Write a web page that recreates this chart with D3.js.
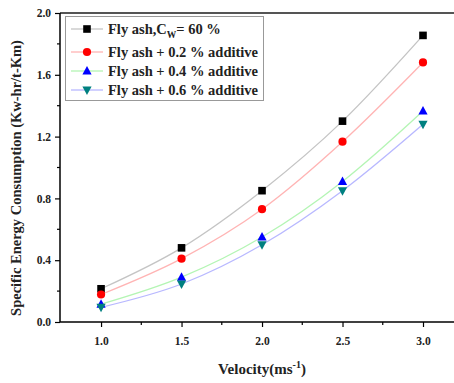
<!DOCTYPE html>
<html>
<head>
<meta charset="utf-8">
<script src="https://cdn.jsdelivr.net/npm/d3@7"></script>
<style>
  body { margin: 0; background: #fff; }
  svg text { font-family: "Liberation Serif", "Times New Roman", serif; font-weight: bold; }
</style>
</head>
<body>
<div id="chart"></div>
<script>
const velocity = [1.0, 1.5, 2.0, 2.5, 3.0];
const seriesNames = ["Fly ash,C_W= 60 %", "Fly ash + 0.2 % additive", "Fly ash + 0.4 % additive", "Fly ash + 0.6 % additive"];
const flyAsh60 = [0.215, 0.48, 0.85, 1.30, 1.855];
const additive02 = [0.178, 0.41, 0.73, 1.167, 1.68];
const additive04 = [0.115, 0.29, 0.55, 0.91, 1.366];
const additive06 = [0.095, 0.246, 0.50, 0.85, 1.28];
const xTicks = [1.0, 1.5, 2.0, 2.5, 3.0];
const yTicks = [0.0, 0.4, 0.8, 1.2, 1.6, 2.0];

const width = 454, height = 383;
const margin = {left: 60, top: 13, right: 0, bottom: 61};

const svg = d3.select("#chart").append("svg")
  .attr("width", width)
  .attr("height", height);

const x = d3.scaleLinear().domain([0.745, 3.0]).range([margin.left, 423]);
const y = d3.scaleLinear().domain([0, 2.0]).range([height - margin.bottom, margin.top]);

const series = [
  {name: seriesNames[0], values: flyAsh60, line: "#c4c4c4", fill: "#000000", symbol: "square"},
  {name: seriesNames[1], values: additive02, line: "#ffb4b4", fill: "#ff0000", symbol: "circle"},
  {name: seriesNames[2], values: additive04, line: "#b4f5b4", fill: "#0000ff", symbol: "up"},
  {name: seriesNames[3], values: additive06, line: "#b8b8ff", fill: "#008080", symbol: "down"}
];

// top frame line
svg.append("line")
  .attr("x1", margin.left).attr("x2", width)
  .attr("y1", margin.top).attr("y2", margin.top)
  .attr("stroke", "#555").attr("stroke-width", 2);

// x axis
const xAxis = svg.append("g")
  .attr("transform", `translate(0,${y(0)})`)
  .call(d3.axisBottom(x).tickValues(xTicks).tickFormat(d3.format(".1f")).tickSize(5).tickPadding(10));
xAxis.select(".domain").attr("d", `M${margin.left},0H${width}`).attr("stroke-width", 1.5);
xAxis.selectAll(".tick line").attr("stroke-width", 1.2);
xAxis.selectAll("text").attr("font-size", 11.5).attr("fill", "#222");
const xMinor = d3.range(1.25, 3.01, 0.5);
xAxis.selectAll(".minor").data(xMinor).enter().append("line")
  .attr("x1", d => x(d)).attr("x2", d => x(d))
  .attr("y1", 0).attr("y2", 3)
  .attr("stroke", "#000").attr("stroke-width", 1.2);

// y axis
const yAxis = svg.append("g")
  .attr("transform", `translate(${margin.left},0)`)
  .call(d3.axisLeft(y).tickValues(yTicks).tickFormat(d3.format(".1f")).tickSize(5).tickPadding(4));
yAxis.select(".domain").attr("d", `M0,${y(0)}V${margin.top}`).attr("stroke-width", 1.5);
yAxis.selectAll(".tick line").attr("stroke-width", 1.2);
yAxis.selectAll("text").attr("font-size", 11.5).attr("fill", "#222");
const yMinor = d3.range(0.2, 2.0, 0.4);
yAxis.selectAll(".minor").data(yMinor).enter().append("line")
  .attr("x1", 0).attr("x2", -3)
  .attr("y1", d => y(d)).attr("y2", d => y(d))
  .attr("stroke", "#000").attr("stroke-width", 1.2);

// axis titles
const xTitle = svg.append("text")
  .attr("x", 262).attr("y", 374)
  .attr("text-anchor", "middle")
  .attr("font-size", 15)
  .attr("fill", "#222");
xTitle.append("tspan").text("Velocity(ms");
xTitle.append("tspan").attr("dy", -6).attr("font-size", 10).text("-1");
xTitle.append("tspan").attr("dy", 6).text(")");

svg.append("text")
  .attr("transform", `translate(21,${178}) rotate(-90)`)
  .attr("text-anchor", "middle")
  .attr("font-size", 14.5)
  .attr("fill", "#222")
  .text("Specific Energy Consumption (Kw-hr/t-Km)");

// lines
const line = d3.line()
  .x((d, i) => x(velocity[i]))
  .y(d => y(d))
  .curve(d3.curveMonotoneX);

series.forEach(s => {
  svg.append("path")
    .datum(s.values)
    .attr("d", line)
    .attr("fill", "none")
    .attr("stroke", s.line)
    .attr("stroke-width", 1.3);
});

function drawSymbol(g, type, cx, cy, color) {
  if (type === "square") {
    g.append("rect").attr("x", cx - 3.8).attr("y", cy - 3.8).attr("width", 7.6).attr("height", 7.6).attr("fill", color);
  } else if (type === "circle") {
    g.append("circle").attr("cx", cx).attr("cy", cy).attr("r", 4.1).attr("fill", color);
  } else if (type === "up") {
    g.append("path").attr("d", `M${cx},${cy - 5}L${cx + 4.6},${cy + 3.5}L${cx - 4.6},${cy + 3.5}Z`).attr("fill", color);
  } else {
    g.append("path").attr("d", `M${cx},${cy + 5}L${cx + 4.6},${cy - 3.5}L${cx - 4.6},${cy - 3.5}Z`).attr("fill", color);
  }
}

const marks = svg.append("g");
series.forEach(s => {
  s.values.forEach((v, i) => drawSymbol(marks, s.symbol, x(velocity[i]), y(v), s.fill));
});

// legend
const legend = svg.append("g");
legend.append("rect")
  .attr("x", 65.5).attr("y", 16.5).attr("width", 198).attr("height", 84)
  .attr("fill", "#fff").attr("stroke", "#999").attr("stroke-width", 1);
const legendY = [29, 52, 71, 90];
series.forEach((s, i) => {
  const ly = legendY[i];
  legend.append("line")
    .attr("x1", 71).attr("x2", 103).attr("y1", ly).attr("y2", ly)
    .attr("stroke", s.line).attr("stroke-width", 1.3);
  drawSymbol(legend, s.symbol, 87, ly, s.fill);
  const t = legend.append("text")
    .attr("x", 108).attr("y", ly + 5)
    .attr("font-size", 14.5).attr("fill", "#222");
  if (i === 0) {
    t.append("tspan").text("Fly ash,C");
    t.append("tspan").attr("dy", 4).attr("font-size", 9.5).text("W");
    t.append("tspan").attr("dy", -4).text("= 60 %");
  } else {
    t.text(s.name);
  }
});
</script>
</body>
</html>
